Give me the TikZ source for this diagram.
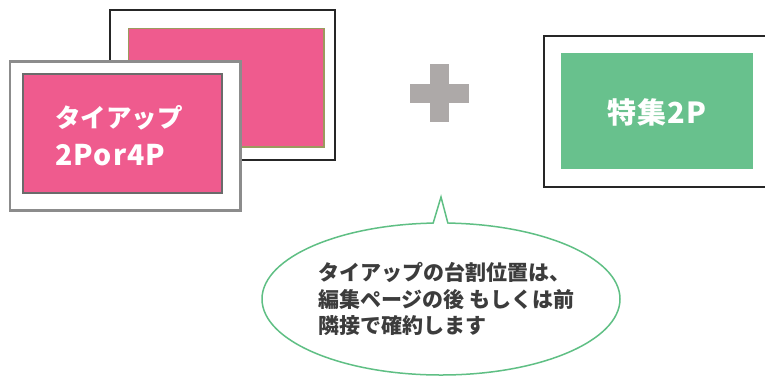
\documentclass[tikz,border=0pt]{standalone}
\usepackage{fontspec}
\newfontfamily\jp{Noto Sans CJK JP}
\newfontfamily\jpls{Noto Sans CJK JP}[LetterSpace=4]
\usetikzlibrary{shapes.geometric,fit}
\definecolor{pinkc}{HTML}{EF5B8E}
\definecolor{greenc}{HTML}{68C18D}
\definecolor{plusc}{HTML}{ADA9A8}
\definecolor{bubg}{HTML}{5FBF84}
\definecolor{olivec}{HTML}{9C9A5E}
\definecolor{txtc}{HTML}{3C3C3C}
\tikzset{
  card/.style={fill=white, inner sep=0pt},
  face/.style={inner sep=0pt},
  bigtxt/.style={text=white, font=\jp\bfseries, align=left, inner sep=0pt},
}
\begin{document}
\begin{tikzpicture}[x=1pt,y=-1pt]
\useasboundingbox[fill=white] (0,0) rectangle (765,376);
% back card
\node[card, draw=black!85, line width=1.3pt, fit={(110,10)(335,160)}] (backout) {};
\node[face, fill=pinkc, draw=olivec, line width=1.3pt, fit={(128.5,28.5)(324,147)}] (backin) {};
% front card
\node[card, draw=black!45, line width=2.2pt, fit={(10,61.5)(240.5,210.5)}] (frontout) {};
\node[face, fill=pinkc, draw=black!58, line width=2pt, fit={(22.5,74)(221.5,193)}] (frontin) {};
\node[bigtxt, anchor=west] (tieup) at (55,118) {\fontsize{25.5}{30}\selectfont タイアップ};
\node[bigtxt, anchor=west] (pages) at (55,155) {\jpls\bfseries\fontsize{28.5}{30}\selectfont 2Por4P};
% plus
\fill[plusc] (430,64) rectangle (449,122);
\fill[plusc] (410,84) rectangle (469,103);
% right card
\node[card, draw=black!85, line width=2pt, fit={(543.5,36)(775,187)}] (rightout) {};
\node[face, fill=greenc, fit={(561,53)(753,169)}] (rightin) {};
\node[text=white, font=\jpls\bfseries\fontsize{29}{32}\selectfont, inner sep=0pt] (feature) at (657,112) {特集2P};
% bubble
\node[ellipse, draw=bubg, line width=1.5pt, fill=white, minimum width=358pt, minimum height=152pt, inner sep=0pt] (bubble) at (441,299) {};
\coordinate (tip) at (441,197);
\coordinate (bl) at (433,223.6);
\coordinate (br) at (448,223.6);
\fill[white] (432,226.5) -- (tip) -- (449,226.5) -- cycle;
\draw[bubg, line width=1.5pt, line join=miter] (bl) -- (tip) -- (br);
\node[text=txtc, font=\jp\bfseries\fontsize{21}{26.5}\selectfont, align=left, anchor=west, inner sep=0pt] (msg) at (318,299) {タイアップの台割位置は、\\編集ページの後 もしくは前\\隣接で確約します};
\end{tikzpicture}
\end{document}
